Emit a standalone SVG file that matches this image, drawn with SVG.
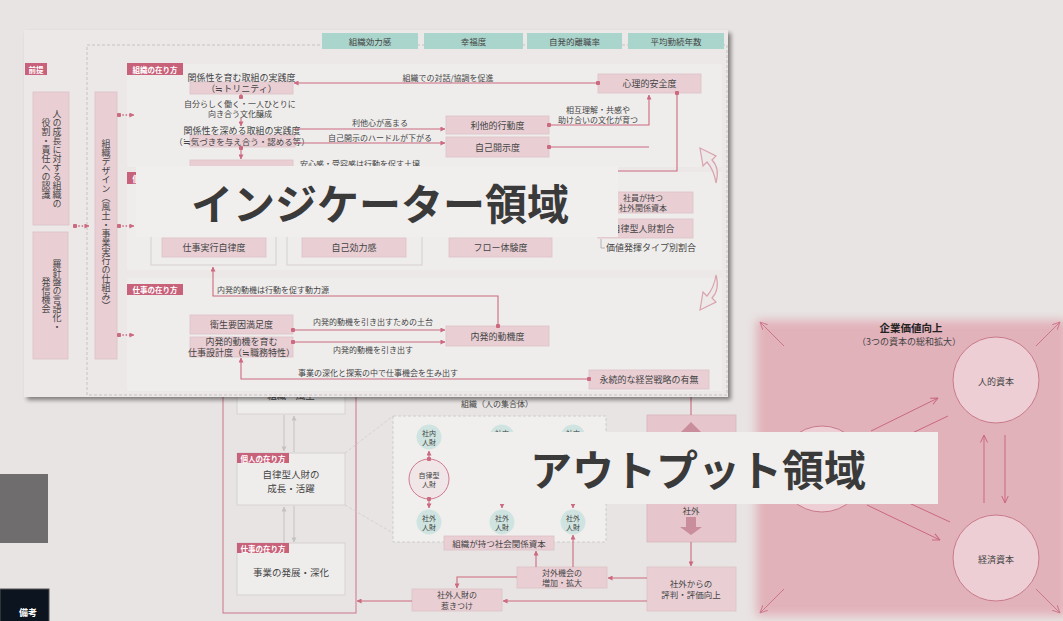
<svg xmlns="http://www.w3.org/2000/svg" width="1063" height="621" viewBox="0 0 1063 621">
<defs>
<style>
.t{font-family:"Noto Sans CJK JP","Noto Sans",sans-serif;fill:#444;dominant-baseline:central}
.n{font-size:9px;text-anchor:middle}
.s{font-size:8px}
.m{text-anchor:middle}
.v{writing-mode:vertical-rl;font-size:9px;text-anchor:middle}
.nb{fill:#e9cfd4;stroke:#dcc1c7;stroke-width:0.8}
.tab{fill:#a9d5cc}
.tag{fill:#c8617a}
.tt{font-family:"Noto Sans CJK JP","Noto Sans",sans-serif;font-size:7.5px;font-weight:700;fill:#fff;text-anchor:middle;dominant-baseline:central}
.c{fill:none;stroke:#cc6a80;stroke-width:1.1}
.dt{fill:none;stroke:#cc6a80;stroke-width:1.3;stroke-dasharray:1.5 1.8}
.gr{fill:none;stroke:#c6c2c2;stroke-width:1}
.wb{fill:#efedec;stroke:#d6d2d1;stroke-width:1}
.sec{fill:#efedec}
.ca{fill:#ece9e8;stroke:#d9a3ae;stroke-width:1.2;stroke-linejoin:miter}
.tc{fill:#cfe4e0}
.ct{font-size:7px}
.pc{fill:none;stroke:#c9687e;stroke-width:1}
.big{font-family:"Noto Sans CJK JP","Noto Sans",sans-serif;font-size:42px;font-weight:700;fill:#3a3a3a;text-anchor:middle;dominant-baseline:central}
</style>
<marker id="a" viewBox="0 0 6 6" refX="5.5" refY="3" markerWidth="5" markerHeight="5" markerUnits="userSpaceOnUse" orient="auto"><path d="M0,0L6,3L0,6z" fill="#cc6a80"/></marker>
<marker id="d" viewBox="0 0 6 6" refX="3" refY="3" markerWidth="4.5" markerHeight="4.5" markerUnits="userSpaceOnUse"><circle cx="3" cy="3" r="3" fill="#cc6a80"/></marker>
<marker id="g" viewBox="0 0 6 6" refX="5.5" refY="3" markerWidth="5" markerHeight="5" markerUnits="userSpaceOnUse" orient="auto"><path d="M0,0L6,3L0,6z" fill="#c6c2c2"/></marker>
<marker id="o" viewBox="0 0 8 8" refX="7.5" refY="4" markerWidth="8" markerHeight="8" markerUnits="userSpaceOnUse" orient="auto"><path d="M0,0.5L7.5,4L0,7.5" fill="none" stroke="#c9687e" stroke-width="1"/></marker>
<filter id="sh" x="-5%" y="-5%" width="110%" height="115%"><feDropShadow dx="3" dy="3" stdDeviation="2" flood-color="#000" flood-opacity="0.45"/></filter>
<filter id="bl" x="-10%" y="-10%" width="120%" height="120%"><feGaussianBlur stdDeviation="5"/></filter>
</defs>

<rect width="1063" height="621" fill="#e8e4e3"/>

<g id="side-blocks">
<rect x="0" y="474" width="48" height="69" fill="#6f6d6d"/>
<rect x="0" y="589" width="49" height="34" fill="#0c1420" stroke="#555" stroke-width="1"/>
<text class="t m" x="28" y="612" style="font-size:9px;fill:#fff;font-weight:700">備考</text>
</g>

<g id="value-area">
<rect x="756" y="320" width="312" height="296" fill="#e2b2bb" filter="url(#bl)"/>
<text class="t m" x="911" y="327" style="font-size:10.5px;font-weight:700;fill:#222">企業価値向上</text>
<text class="t m" x="909" y="341" style="font-size:9px">（3つの資本の総和拡大）</text>
<g id="human-capital"><circle cx="996" cy="380" r="43" fill="#ecced4" stroke="#c97a8b" stroke-width="1"/><text class="t n" x="996" y="381">人的資本</text></g>
<g id="economic-capital"><circle cx="996" cy="558" r="43" fill="#ecced4" stroke="#c97a8b" stroke-width="1"/><text class="t n" x="996" y="559">経済資本</text></g>
<g id="third-capital"><circle cx="822" cy="469" r="43" fill="#ecced4" stroke="#c97a8b" stroke-width="1"/></g>
<g id="value-connectors">
<path class="pc" d="M871,431L938,398" marker-end="url(#o)"/>
<path class="pc" d="M948,416L866,455" marker-end="url(#o)"/>
<path class="pc" d="M867,505L940,540" marker-end="url(#o)"/>
<path class="pc" d="M950,522L868,484" marker-end="url(#o)"/>
<path class="pc" d="M984,503V435" marker-end="url(#o)"/>
<path class="pc" d="M1005,435V503" marker-end="url(#o)"/>
<path class="pc" d="M784,346L760,322" marker-end="url(#o)" opacity="0.8"/>
<path class="pc" d="M1036,346L1060,322" marker-end="url(#o)" opacity="0.8"/>
<path class="pc" d="M784,589L760,613" marker-end="url(#o)" opacity="0.8"/>
<path class="pc" d="M1036,589L1060,613" marker-end="url(#o)" opacity="0.8"/>
</g>
</g>

<g id="output-flow">
<rect x="223" y="360" width="133" height="253" fill="none" stroke="#c9768a" stroke-width="1"/>
<g id="org-box"><rect class="wb" x="237" y="360" width="108" height="54"/><text class="t m" x="291" y="395" style="font-size:9.5px">組織・風土</text></g>
<path class="gr" d="M284,415V451" marker-end="url(#g)"/>
<path class="gr" d="M294,452V416" marker-end="url(#g)"/>
<g id="person-box"><rect class="wb" x="237" y="453" width="108" height="52"/><rect class="tag" x="237" y="453" width="52" height="10"/><text class="tt" x="263" y="458">個人の在り方</text>
<text class="t m" x="291" y="474" style="font-size:9.5px">自律型人財の</text><text class="t m" x="291" y="488" style="font-size:9.5px">成長・活躍</text></g>
<path class="gr" d="M284,543V507" marker-end="url(#g)"/>
<path class="gr" d="M294,506V542" marker-end="url(#g)"/>
<g id="work-box"><rect class="wb" x="237" y="543" width="108" height="52"/><rect class="tag" x="237" y="543" width="52" height="10"/><text class="tt" x="263" y="548">仕事の在り方</text>
<text class="t m" x="291" y="572" style="font-size:9.5px">事業の発展・深化</text></g>

<path d="M345,453L393,416M345,505L393,533" fill="none" stroke="#cfcbcb" stroke-width="0.8" stroke-dasharray="3 2"/>
<text class="t m s" x="497" y="403">組織（人の集合体）</text>
<g id="org-group">
<rect x="393" y="416" width="213" height="126" fill="#f0efee" stroke="#c8c4c4" stroke-width="0.8" stroke-dasharray="3 2"/>
<circle class="tc" cx="429" cy="437" r="12.5"/><text class="t m ct" x="429" y="432.5">社内</text><text class="t m ct" x="429" y="441.5">人財</text>
<circle class="tc" cx="502" cy="437" r="12.5"/><text class="t m ct" x="502" y="432.5">社内</text>
<circle class="tc" cx="573" cy="437" r="12.5"/><text class="t m ct" x="573" y="432.5">社内</text>
<circle cx="429" cy="479" r="20" fill="#f0e6e7" stroke="#d07a8e" stroke-width="1"/><text class="t m ct" x="429" y="474.5">自律型</text><text class="t m ct" x="429" y="483.5">人財</text>
<circle class="tc" cx="429" cy="522" r="12.5"/><text class="t m ct" x="429" y="517.5">社外</text><text class="t m ct" x="429" y="526.5">人財</text>
<circle class="tc" cx="502" cy="522" r="12.5"/><text class="t m ct" x="502" y="517.5">社外</text><text class="t m ct" x="502" y="526.5">人財</text>
<circle class="tc" cx="573" cy="522" r="12.5"/><text class="t m ct" x="573" y="517.5">社外</text><text class="t m ct" x="573" y="526.5">人財</text>
<path class="c" d="M429,459V451" marker-start="url(#d)" marker-end="url(#a)"/>
<path class="c" d="M429,499V508" marker-start="url(#d)" marker-end="url(#a)"/>
<path class="c" d="M502,499V508" marker-end="url(#a)"/>
<path class="c" d="M573,499V508" marker-end="url(#a)"/>
</g>
<g id="social-capital"><rect class="nb" x="444" y="536" width="110" height="14"/><text class="t m" x="499" y="543" style="font-size:8.5px">組織が持つ社会関係資本</text></g>
<g id="opportunity"><rect class="nb" x="517" y="567" width="90" height="21"/><text class="t m" x="562" y="572" style="font-size:8px">対外機会の</text><text class="t m" x="562" y="582.5" style="font-size:8px">増加・拡大</text></g>
<g id="attract"><rect class="nb" x="412" y="589" width="90" height="22"/><text class="t m" x="457" y="594.5" style="font-size:8px">社外人財の</text><text class="t m" x="457" y="605" style="font-size:8px">惹きつけ</text></g>
<g id="inout-box"><rect x="647" y="415" width="89" height="127" fill="#e6c6cc" stroke="#d8b6bd" stroke-width="0.8"/>
<path d="M691,422L702,433H680Z" fill="#c98d9b"/>
<text class="t m" x="691" y="510" style="font-size:8.5px">社外</text>
<path d="M686,517H696V527H702L691,535L680,527H686Z" fill="#c98d9b"/></g>
<g id="reputation"><rect class="nb" x="647" y="567" width="89" height="44"/><text class="t m" x="691" y="583" style="font-size:8.5px">社外からの</text><text class="t m" x="691" y="594" style="font-size:8.5px">評判・評価向上</text></g>
<g id="output-connectors">
<path class="c" d="M691,380V415"/>
<path class="c" d="M691,542V566" marker-end="url(#a)"/>
<path class="c" d="M647,578H608" marker-end="url(#a)"/>
<path class="c" d="M647,601H503" marker-end="url(#a)"/>
<path class="c" d="M412,601H357" marker-end="url(#a)"/>
<path class="c" d="M536,567V551" marker-end="url(#a)"/>
<path class="c" d="M573,567V535" marker-end="url(#a)"/>
<path class="c" d="M517,577H457V588" marker-end="url(#a)"/>
</g>
</g>

<g id="indicator-panel">
<rect x="24" y="30" width="704" height="367" fill="#ebe8e7" filter="url(#sh)"/>
<rect class="sec" x="127" y="64" width="595" height="103"/>
<rect class="sec" x="127" y="172" width="595" height="98"/>
<rect class="sec" x="127" y="278" width="595" height="113"/>
<path d="M87,395V45H727V395H87" fill="none" stroke="#bdb9b9" stroke-width="0.8" stroke-dasharray="3 2"/>

<g id="tabs">
<rect class="tab" x="322" y="33" width="96" height="16"/><text class="t m" x="370" y="41" style="font-size:8.5px">組織効力感</text>
<rect class="tab" x="424" y="33" width="99" height="16"/><text class="t m" x="473.5" y="41" style="font-size:8.5px">幸福度</text>
<rect class="tab" x="527" y="33" width="95" height="16"/><text class="t m" x="574.5" y="41" style="font-size:8.5px">自発的離職率</text>
<rect class="tab" x="628" y="33" width="96" height="16"/><text class="t m" x="676" y="41" style="font-size:8.5px">平均勤続年数</text>
</g>

<rect class="tag" x="25" y="63" width="22" height="12"/><text class="tt" x="36" y="69">前提</text>
<g id="premise-1"><rect class="nb" x="33" y="92" width="36" height="133"/>
<text class="t v" x="57" y="158.5">人の成長に対する組織の</text><text class="t v" x="46" y="158.5">役割・責任への認識</text></g>
<g id="premise-2"><rect class="nb" x="33" y="232" width="35" height="127"/>
<text class="t v" x="57" y="295.5">羅針盤の言語化・</text><text class="t v" x="46" y="295.5">発信機会</text></g>
<g id="org-design"><rect class="nb" x="95" y="92" width="22" height="267"/>
<text class="t v" x="106" y="225">組織デザイン（風土・事業実行の仕組み）</text></g>

<g id="premise-connectors">
<path class="dt" d="M75,226H89" marker-start="url(#d)" marker-end="url(#a)"/>
<path class="dt" d="M119,115H134" marker-start="url(#d)" marker-end="url(#a)"/>
<path class="dt" d="M119,226H134" marker-start="url(#d)" marker-end="url(#a)"/>
<path class="dt" d="M119,335H134" marker-start="url(#d)" marker-end="url(#a)"/>
</g>

<rect class="tag" x="127" y="63" width="56" height="12"/><text class="tt" x="155" y="69">組織の在り方</text>
<g id="n-trinity"><rect class="nb" x="190" y="82" width="103" height="12"/><text class="t n" x="241.5" y="77.5">関係性を育む取組の実践度</text><text class="t n" x="241.5" y="88">（≒トリニティ）</text></g>
<text class="t m s" x="240" y="103">自分らしく働く・一人ひとりに</text>
<text class="t m s" x="240" y="113.5">向き合う文化醸成</text>
<g id="n-deepen"><rect class="nb" x="190" y="135" width="105" height="12"/><text class="t n" x="242" y="130">関係性を深める取組の実践度</text><text class="t n" x="242" y="141" style="font-size:8.5px">（≒気づきを与え合う・認める等）</text></g>
<g id="n-hidden"><rect class="nb" x="190" y="160" width="103" height="15"/></g>
<text class="t s" x="300" y="163">安心感・受容感は行動を促す土壌</text>
<g id="n-safety"><rect class="nb" x="598" y="74" width="103" height="19"/><text class="t n" x="649.5" y="83.5">心理的安全度</text></g>
<g id="n-altruism"><rect class="nb" x="446" y="116" width="103" height="18"/><text class="t n" x="497.5" y="125">利他的行動度</text></g>
<g id="n-disclosure"><rect class="nb" x="446" y="137" width="103" height="20"/><text class="t n" x="497.5" y="147">自己開示度</text></g>

<g id="org-connectors">
<path class="c" d="M598,83H294" marker-start="url(#d)" marker-end="url(#a)"/>
<text class="t s m" x="448" y="77">組織での対話/協調を促進</text>
<path class="c" d="M241,94V97" marker-end="url(#d)"/>
<path class="c" d="M241,118V126" marker-end="url(#a)"/>
<path class="c" d="M241,148V159" marker-start="url(#d)" marker-end="url(#a)"/>
<path class="c" d="M295,129H445" marker-end="url(#a)"/>
<text class="t s m" x="380" y="122">利他心が高まる</text>
<path class="c" d="M295,143H445" marker-end="url(#a)"/>
<text class="t s m" x="380" y="137">自己開示のハードルが下がる</text>
<path class="c" d="M549,125H649V95" marker-start="url(#d)" marker-end="url(#a)"/>
<path class="c" d="M549,147H649" marker-start="url(#d)"/>
<text class="t s m" x="598" y="109.5">相互理解・共感や</text>
<text class="t s m" x="598" y="119.5">助け合いの文化が育つ</text>
<path class="c" d="M677,93V171H600" marker-start="url(#d)"/>
</g>
<path id="curve-up" class="ca" d="M716,183Q720,168 712,160L716,156L700,148L703,166L707,162Q714,170 716,183Z"/>
<path id="curve-down" class="ca" d="M716,183Q720,168 712,160L716,156L700,148L703,166L707,162Q714,170 716,183Z" transform="translate(0,458) scale(1,-1)"/>

<rect class="tag" x="127" y="172" width="56" height="12"/><text class="tt" x="155" y="178">個人の在り方</text>
<rect x="151" y="188" width="125" height="77" fill="none" stroke="#d3cfce" stroke-width="1"/>
<rect x="287" y="188" width="135" height="77" fill="none" stroke="#d3cfce" stroke-width="1"/>
<g id="n-autonomy"><rect class="nb" x="162" y="238" width="104" height="19"/><text class="t n" x="214" y="247.5">仕事実行自律度</text></g>
<g id="n-efficacy"><rect class="nb" x="302" y="238" width="104" height="19"/><text class="t n" x="354" y="247.5">自己効力感</text></g>
<g id="n-flow"><rect class="nb" x="449" y="238" width="103" height="19"/><text class="t n" x="500.5" y="247.5">フロー体験度</text></g>
<g id="n-ext-capital"><rect class="nb" x="598" y="192" width="95" height="21"/><text class="t m" x="643" y="197" style="font-size:8px">社員が持つ</text><text class="t m" x="643" y="207.5" style="font-size:8px">社外関係資本</text></g>
<g id="n-ratio"><rect class="nb" x="598" y="219" width="95" height="19"/><text class="t n" x="643" y="228.5">自律型人財割合</text></g>
<path d="M601,239V248H605" fill="none" stroke="#a9a5a5" stroke-width="0.8"/>
<text class="t" x="606" y="247.5" style="font-size:9px">価値発揮タイプ別割合</text>

<rect class="tag" x="127" y="284" width="56" height="11"/><text class="tt" x="155" y="289.5">仕事の在り方</text>
<g id="n-hygiene"><rect class="nb" x="190" y="315" width="103" height="19"/><text class="t n" x="241.5" y="324.5">衛生要因満足度</text></g>
<g id="n-jobdesign"><rect class="nb" x="190" y="337" width="103" height="20"/><text class="t n" x="241.5" y="341">内発的動機を育む</text><text class="t n" x="241.5" y="352">仕事設計度（≒職務特性）</text></g>
<g id="n-intrinsic"><rect class="nb" x="446" y="326" width="103" height="20"/><text class="t n" x="497.5" y="336">内発的動機度</text></g>
<g id="n-strategy"><rect class="nb" x="589" y="370" width="120" height="19"/><text class="t n" x="649" y="379.5">永続的な経営戦略の有無</text></g>
<g id="work-connectors">
<path class="c" d="M498,326V296H213V267" marker-start="url(#d)" marker-end="url(#a)"/>
<text class="t s" x="217" y="289">内発的動機は行動を促す動力源</text>
<path class="c" d="M293,330H445" marker-start="url(#d)" marker-end="url(#a)"/>
<text class="t s m" x="373" y="321">内発的動機を引き出すための土台</text>
<path class="c" d="M293,342H445" marker-start="url(#d)" marker-end="url(#a)"/>
<text class="t s m" x="373" y="349">内発的動機を引き出す</text>
<path class="c" d="M589,379H241V358" marker-start="url(#d)" marker-end="url(#a)"/>
<text class="t s m" x="378" y="372">事業の深化と探索の中で仕事機会を生み出す</text>
</g>
</g>

<g id="overlay-indicator">
<rect x="136" y="166" width="482" height="71" fill="#f0efee"/>
<text class="big" x="380" y="201">インジケーター領域</text>
</g>
<g id="overlay-output">
<rect x="458" y="432" width="480" height="72" fill="#f0efee"/>
<text class="big" x="698" y="467">アウトプット領域</text>
</g>
</svg>
